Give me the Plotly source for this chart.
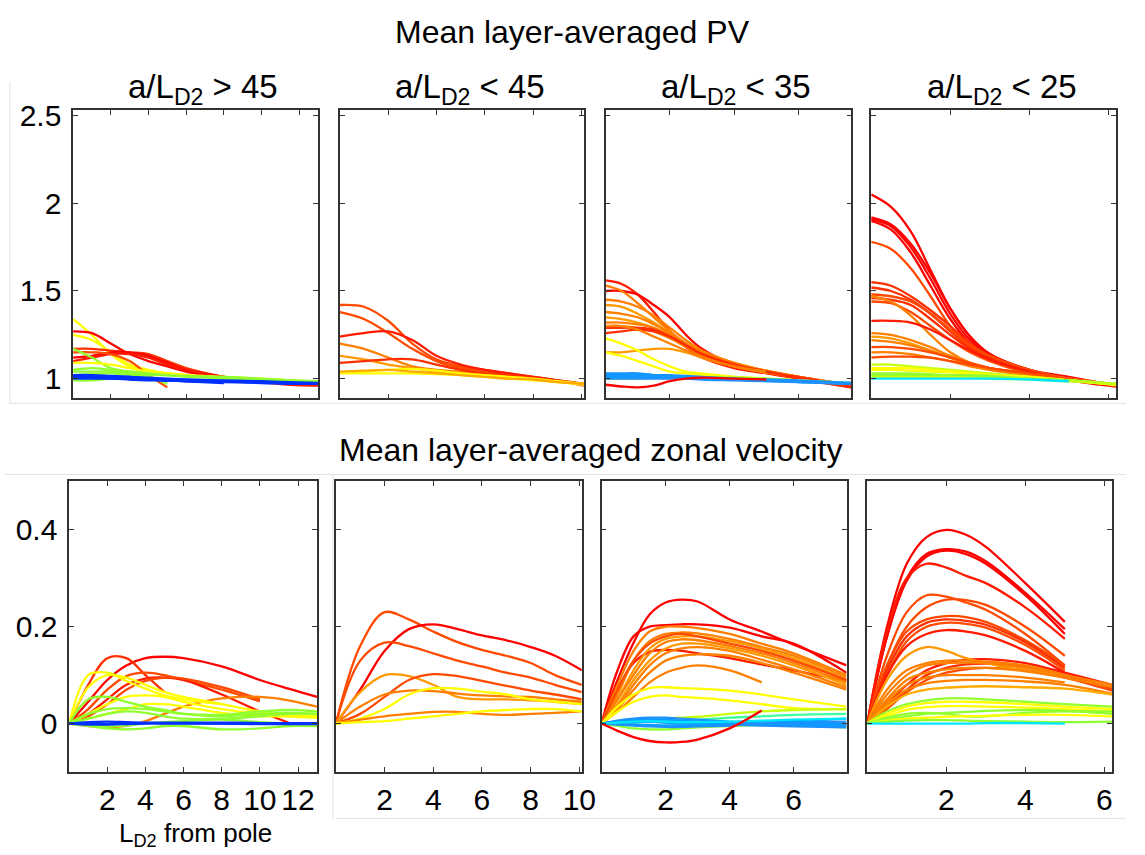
import plotly.graph_objects as go

# ---------------- colours (jet-like) ----------------
R = '#ff0000'; R1 = '#ff1a00'; R2 = '#ff3000'; OR = '#ff4a00'; O = '#ff8000'
O2 = '#ff9900'; OL = '#ffaa00'; Y = '#ffff00'; YG = '#c8ff10'; G = '#90ff30'
GC = '#40ffa0'; C = '#00e5ff'; LB = '#1e90ff'; LB2 = '#0a9cff'; B = '#0030ff'

# ---------------- panel 1 (a/L_D2 > 45) ----------------
pv1_x = [0, 1, 2, 3, 4, 5, 6, 8, 10, 11.5, 13]
pv1_y = [
    [1.34, 1.25, 1.14, 1.07, 1.04, 1.03, 1.02, 1.0, 0.99, 0.98, 0.975],
    [1.27, 1.26, 1.2, 1.14, 1.1, 1.07, 1.04, 1.0],
    [1.25, 1.22, 1.15, 1.08, 1.05, 1.03, 1.02, 1.0, 0.99, 0.98, 0.975],
    [1.17, 1.17, 1.16, 1.15, 1.14, 1.1, 1.06, 1.01, 0.98, 0.97, 0.965],
    [1.12, 1.13, 1.15, 1.15, 1.13, 1.09, 1.05, 1.01, 0.985, 0.97, 0.965],
    [1.1, 1.12, 1.14, 1.14, 1.12, 1.08, 1.05, 1.01, 0.98, 0.965, 0.96],
    [1.15, 1.15, 1.14, 1.1, 1.02, 0.95],
    [1.17, 1.12, 1.06, 1.04, 1.03, 1.02, 1.015, 1.0, 0.99, 0.985, 0.98],
    [1.09, 1.09, 1.08, 1.06, 1.04, 1.03, 1.02, 1.01, 1.0, 0.99, 0.98],
    [1.05, 1.06, 1.05, 1.04, 1.03, 1.02, 1.015, 1.01, 1.0, 0.99, 0.985],
    [1.04, 1.04, 1.04, 1.03, 1.02, 1.02, 1.01, 1.005, 0.995, 0.99, 0.985],
    [0.99, 0.99, 1.0, 1.0, 0.995, 0.99, 0.99, 0.985],
    [1.02, 1.025, 1.03, 1.02, 1.01, 0.97],
    [1.015, 1.015, 1.01, 1.01, 1.005, 1.0, 0.995, 0.99, 0.985, 0.98, 0.975],
    [1.02, 1.02, 1.015, 1.01, 1.0, 0.985],
    [1.01, 1.01, 1.005, 1.0, 0.995, 0.99, 0.985, 0.975],
    [1.005, 1.005, 1.0, 1.0, 0.995, 0.99, 0.99, 0.985, 0.978],
    [1.0, 1.0, 1.0, 0.995, 0.99, 0.99, 0.985, 0.98, 0.975, 0.97, 0.97],
]
pv1_c = [Y, R, Y, R2, R, R1, OR, G, Y, G, G, G, G, B, B, B, B, B]

u1_x = [0, 1, 2, 3, 4, 5, 6, 8, 10, 11.5, 13]
u1_y = [
    [0, 0.045, 0.09, 0.12, 0.135, 0.138, 0.135, 0.118, 0.09, 0.072, 0.055],
    [0, 0.08, 0.135, 0.135, 0.1, 0.065],
    [0, 0.03, 0.07, 0.098, 0.105, 0.1, 0.09, 0.07, 0.046],
    [0, 0.02, 0.05, 0.08, 0.093, 0.095, 0.09, 0.06, 0.025, 0.002],
    [0, 0.015, 0.04, 0.07, 0.088, 0.095, 0.093, 0.075, 0.05],
    [0, -0.005, -0.008, -0.005, 0.005, 0.02, 0.035, 0.052, 0.055, 0.048, 0.035],
    [0, 0.1, 0.105, 0.088, 0.072, 0.058, 0.05, 0.04],
    [0, 0.075, 0.1, 0.095, 0.08, 0.065, 0.055, 0.04, 0.025, 0.018, 0.015],
    [0, 0.02, 0.04, 0.055, 0.058, 0.055, 0.045, 0.03, 0.02, 0.015, 0.012],
    [0, 0.01, 0.02, 0.03, 0.04, 0.04, 0.035, 0.022, 0.015, 0.015, 0.015],
    [0, 0.05, 0.055, 0.045, 0.035, 0.028, 0.02, 0.015, 0.02, 0.022, 0.02],
    [0, 0.02, 0.03, 0.032, 0.03, 0.025, 0.02, 0.018, 0.025, 0.028, 0.025],
    [0, 0.01, 0.02, 0.025, 0.022, 0.015, 0.01, 0.01, 0.015, 0.02, 0.02],
    [0, -0.005, -0.01, -0.012, -0.01, -0.005, -0.005, -0.012, -0.01, -0.005, -0.005],
    [0, -0.003, -0.005, -0.004, 0.0, 0.003, 0.005, 0.008, 0.003, 0.0, 0.0],
    [0, 0.003, 0.004, 0.003, 0.002, 0.002, 0.002, 0.002, 0.001, 0.001, 0.001],
    [0, 0.0, -0.001, 0.0, 0.001, 0.0, 0.0, 0.0, 0.0, 0.0, 0.0],
    [0, -0.002, -0.002, -0.001, 0, 0.001, 0.001, 0.0, -0.001, -0.001, -0.001],
]
u1_c = [R, R2, OR, R1, OR, O, Y, Y, Y, Y, G, G, G, G, G, B, B, B]

# ---------------- panel 2 (a/L_D2 < 45) ----------------
pv2_x = [0, 1, 2, 3, 4, 5, 6, 7, 8, 9, 10.1]
pv2_y = [
    [1.42, 1.41, 1.33, 1.2, 1.11, 1.07, 1.05, 1.03, 1.01, 0.99, 0.97],
    [1.38, 1.34, 1.26, 1.17, 1.1, 1.06, 1.04, 1.02, 1.0, 0.985, 0.965],
    [1.24, 1.26, 1.27, 1.22, 1.13, 1.08, 1.05, 1.03, 1.01, 0.99, 0.96],
    [1.2, 1.17, 1.12, 1.07, 1.05, 1.04, 1.03, 1.01, 1.0, 0.985, 0.97],
    [1.13, 1.11, 1.08, 1.06, 1.04, 1.03, 1.02, 1.01, 1.0, 0.985, 0.97],
    [1.09, 1.1, 1.11, 1.11, 1.08, 1.05, 1.03, 1.02, 1.0, 0.99, 0.97],
    [1.035, 1.04, 1.05, 1.055, 1.045, 1.03, 1.02, 1.01, 1.0, 0.985, 0.97],
    [1.03, 1.03, 1.03, 1.03, 1.025, 1.02, 1.01, 1.0, 0.99, 0.98, 0.965],
    [1.04, 1.045, 1.05, 1.04, 1.03, 1.02, 1.01, 1.0, 0.995, 0.98, 0.97],
]
pv2_c = [OR, OR, R1, O, O2, R2, Y, Y, OL]

u2_x = [0, 1, 2, 3, 4, 5, 6, 7, 8, 9, 10.1]
u2_y = [
    [0, 0.16, 0.23, 0.215, 0.19, 0.168, 0.152, 0.14, 0.125, 0.1, 0.08],
    [0, 0.07, 0.15, 0.195, 0.205, 0.195, 0.182, 0.172, 0.158, 0.14, 0.11],
    [0, 0.13, 0.167, 0.16, 0.145, 0.13, 0.118, 0.105, 0.095, 0.08, 0.065],
    [0, 0.065, 0.1, 0.098, 0.08, 0.055, 0.05, 0.05, 0.048, 0.045, 0.04],
    [0, 0.02, 0.055, 0.09, 0.102, 0.098, 0.088, 0.078, 0.068, 0.06, 0.05],
    [0, 0.035, 0.06, 0.068, 0.067, 0.062, 0.058, 0.056, 0.055, 0.05, 0.045],
    [0, 0.01, 0.03, 0.06, 0.073, 0.072, 0.066, 0.06, 0.05, 0.045, 0.04],
    [0, 0.008, 0.015, 0.02, 0.024, 0.024, 0.02, 0.018, 0.02, 0.022, 0.025],
    [0, 0.003, 0.005, 0.01, 0.015, 0.02, 0.025, 0.028, 0.03, 0.03, 0.025],
]
u2_c = [OR, R, OR, O2, OR, O, Y, O, Y]

# ---------------- panel 3 (a/L_D2 < 35) ----------------
pv3_x = [0, 0.5, 1, 1.5, 2, 2.5, 3, 4, 5, 6, 7.65]
pv3_y = [
    [1.56, 1.54, 1.48, 1.38, 1.27, 1.18, 1.12, 1.06, 1.03, 1.0, 0.95],
    [1.5, 1.5, 1.48, 1.42, 1.35, 1.25, 1.17, 1.08, 1.04, 1.01, 0.955],
    [1.53, 1.5, 1.43, 1.35, 1.27, 1.2, 1.15, 1.08, 1.04, 1.01, 0.96],
    [1.45, 1.44, 1.41, 1.36, 1.29, 1.22, 1.16, 1.09, 1.045, 1.01, 0.965],
    [1.42, 1.41, 1.37, 1.32, 1.26, 1.2, 1.15, 1.08, 1.04, 1.01, 0.96],
    [1.38, 1.37, 1.35, 1.31, 1.26, 1.2, 1.15, 1.09, 1.045, 1.01, 0.965],
    [1.35, 1.34, 1.32, 1.29, 1.24, 1.19, 1.14, 1.08, 1.04, 1.01, 0.96],
    [1.32, 1.32, 1.31, 1.29, 1.25, 1.2, 1.15, 1.08, 1.04, 1.005, 0.96],
    [1.3, 1.3, 1.29, 1.27, 1.23, 1.18, 1.13, 1.07, 1.035, 1.005, 0.965],
    [1.15, 1.15, 1.16, 1.17, 1.17, 1.15, 1.12, 1.07, 1.035, 1.005, 0.965],
    [1.29, 1.29, 1.29, 1.28, 1.24, 1.19, 1.14, 1.08, 1.04, 1.01, 0.955],
    [1.26, 1.27, 1.28, 1.27, 1.24, 1.19, 1.14, 1.08, 1.04, 1.0, 0.95],
    [1.3, 1.3, 1.28, 1.24, 1.2, 1.16, 1.12, 1.07, 1.04],
    [1.23, 1.2, 1.16, 1.11, 1.07, 1.04, 1.03, 1.01, 1.0, 0.99, 0.97],
    [1.15, 1.13, 1.1, 1.07, 1.04, 1.03, 1.02, 1.01, 1.0, 0.99, 0.97],
    [1.0, 1.0, 1.0, 1.005, 1.01, 1.01, 1.01, 1.005, 1.0, 0.99, 0.975],
    [1.03, 1.03, 1.03, 1.02, 1.02, 1.015, 1.01, 1.0, 0.995, 0.99, 0.975],
    [1.02, 1.025, 1.025, 1.02, 1.015, 1.01, 1.005, 1.0, 0.99, 0.985, 0.975],
    [1.015, 1.015, 1.015, 1.015, 1.01, 1.005, 1.0, 0.995, 0.99, 0.985, 0.97],
    [1.01, 1.01, 1.005, 1.005, 1.005, 1.0, 1.0, 0.995, 0.99, 0.98, 0.97],
    [1.0, 1.0, 1.0, 1.0, 1.0, 1.0, 0.995, 0.99, 0.985, 0.98, 0.97],
    [0.965, 0.955, 0.95, 0.96, 0.985, 1.0, 1.005, 1.0, 0.995],
]
pv3_c = [R1, R, O, O, O2, O, O2, O, O, O2, R2, R2, O, Y, Y, G, LB, LB2, LB, LB2, LB, R]

u3_x = [0, 0.5, 1, 1.5, 2, 2.5, 3, 4, 5, 6, 7.65]
u3_y = [
    [0, 0.09, 0.167, 0.225, 0.25, 0.256, 0.252, 0.215, 0.19, 0.163, 0.12],
    [0, 0.11, 0.18, 0.2, 0.203, 0.205, 0.205, 0.198, 0.18, 0.165, 0.105],
    [0, 0.07, 0.125, 0.148, 0.152, 0.15, 0.145, 0.135, 0.122, 0.11, 0.088],
    [0, 0.08, 0.15, 0.19, 0.2, 0.2, 0.197, 0.185, 0.165, 0.145, 0.1],
    [0, 0.06, 0.13, 0.17, 0.185, 0.188, 0.186, 0.175, 0.158, 0.14, 0.095],
    [0, 0.05, 0.11, 0.155, 0.175, 0.18, 0.18, 0.17, 0.155, 0.135, 0.09],
    [0, 0.05, 0.1, 0.145, 0.168, 0.174, 0.172, 0.16, 0.145, 0.125, 0.085],
    [0, 0.04, 0.09, 0.13, 0.155, 0.165, 0.165, 0.155, 0.14, 0.12, 0.08],
    [0, 0.035, 0.08, 0.12, 0.145, 0.155, 0.158, 0.15, 0.132, 0.112, 0.075],
    [0, 0.03, 0.07, 0.105, 0.13, 0.14, 0.143, 0.14, 0.125, 0.105, 0.07],
    [0, 0.025, 0.055, 0.085, 0.105, 0.115, 0.12, 0.11, 0.085],
    [0, 0.07, 0.13, 0.165, 0.18, 0.185, 0.18, 0.165, 0.15, 0.13, 0.09],
    [0, 0.035, 0.06, 0.073, 0.075, 0.073, 0.072, 0.068, 0.06, 0.05, 0.035],
    [0, 0.025, 0.045, 0.055, 0.058, 0.055, 0.053, 0.048, 0.04, 0.032, 0.03],
    [0, 0.002, 0.005, 0.008, 0.01, 0.012, 0.014, 0.02, 0.025, 0.028, 0.03],
    [0, 0.0, 0.002, 0.004, 0.005, 0.006, 0.008, 0.012, 0.015, 0.018, 0.02],
    [0, -0.005, -0.01, -0.012, -0.012, -0.01, -0.008, -0.005, -0.003, -0.003, -0.008],
    [0, 0.006, 0.01, 0.012, 0.012, 0.01, 0.008, 0.004, 0.0, -0.002, -0.005],
    [0, 0.004, 0.007, 0.008, 0.008, 0.006, 0.004, 0.002, 0.0, -0.002, -0.004],
    [0, 0.002, 0.003, 0.004, 0.003, 0.002, 0.0, -0.002, -0.004, -0.006, -0.008],
    [0, 0.0, -0.002, -0.003, -0.004, -0.004, -0.004, -0.003, -0.001, 0.0, 0.0],
    [0, -0.002, -0.004, -0.006, -0.007, -0.007, -0.006, -0.004, 0.0, 0.002, 0.004],
    [0, 0.003, 0.005, 0.004, 0.002, 0.0, 0.0, 0.002, 0.005, 0.005, 0.01],
    [0, 0.002, 0.004, 0.005, 0.004, 0.003, 0.003, 0.004, 0.006, 0.008, 0.01],
    [0, -0.015, -0.028, -0.036, -0.039, -0.038, -0.033, -0.01, 0.027],
]
u3_c = [R, R, R1, O, O, O2, O, O2, O, O, O, OR, Y, Y, YG, GC, G,
        LB, LB2, LB, LB2, LB, LB2, C, R]

# ---------------- panel 4 (a/L_D2 < 25) ----------------
pv4_x = [0, 0.5, 1, 1.5, 2, 2.5, 3, 4, 5, 6.2]
pv4_y = [
    [2.05, 1.98, 1.84, 1.62, 1.4, 1.24, 1.14, 1.05, 1.01, 0.96],
    [1.92, 1.88, 1.77, 1.6, 1.4, 1.24, 1.14, 1.05, 1.0, 0.96],
    [1.91, 1.87, 1.75, 1.57, 1.37, 1.22, 1.13, 1.05, 1.0, 0.96],
    [1.9, 1.85, 1.72, 1.53, 1.34, 1.2, 1.12, 1.04, 0.99],
    [1.78, 1.74, 1.63, 1.47, 1.3, 1.18, 1.11, 1.04, 1.0, 0.96],
    [1.55, 1.53, 1.47, 1.39, 1.3, 1.2, 1.13, 1.05, 1.0, 0.96],
    [1.52, 1.5, 1.45, 1.37, 1.27, 1.18, 1.12, 1.04, 0.99],
    [1.48, 1.47, 1.44, 1.37, 1.28, 1.19, 1.13, 1.05, 1.0, 0.96],
    [1.46, 1.45, 1.42, 1.34, 1.25, 1.17, 1.11, 1.04, 0.99],
    [1.44, 1.43, 1.38, 1.3, 1.22, 1.15, 1.1, 1.03, 0.99],
    [1.47, 1.44, 1.36, 1.25, 1.15, 1.09, 1.06, 1.03, 1.0, 0.965],
    [1.33, 1.33, 1.32, 1.28, 1.22, 1.16, 1.11, 1.04, 0.99, 0.955],
    [1.26, 1.25, 1.22, 1.18, 1.13, 1.09, 1.06, 1.02, 1.0, 0.965],
    [1.24, 1.23, 1.2, 1.16, 1.12, 1.08, 1.05, 1.02, 0.995],
    [1.22, 1.21, 1.19, 1.16, 1.12, 1.08, 1.06, 1.02, 0.99],
    [1.18, 1.18, 1.17, 1.15, 1.12, 1.09, 1.06, 1.03, 0.995, 0.96],
    [1.15, 1.15, 1.14, 1.12, 1.1, 1.07, 1.05, 1.02, 0.99],
    [1.12, 1.125, 1.125, 1.12, 1.1, 1.08, 1.06, 1.03, 1.0, 0.96],
    [1.08, 1.08, 1.07, 1.06, 1.05, 1.04, 1.03, 1.01, 0.99, 0.965],
    [1.06, 1.06, 1.06, 1.05, 1.04, 1.03, 1.02, 1.01, 0.99, 0.965],
    [1.05, 1.05, 1.045, 1.04, 1.035, 1.03, 1.02, 1.0, 0.99, 0.965],
    [1.03, 1.03, 1.03, 1.025, 1.02, 1.02, 1.015, 1.0, 0.99, 0.97],
    [1.02, 1.02, 1.02, 1.02, 1.015, 1.01, 1.01, 1.0, 0.99, 0.97],
    [1.01, 1.01, 1.01, 1.01, 1.01, 1.005, 1.0, 0.995, 0.985, 0.97],
    [1.0, 1.0, 1.0, 1.0, 1.0, 1.0, 1.0, 0.995, 0.985],
]
pv4_c = [R, R, R, R, OR, R2, R2, OR, R2, OR, O, R1, O, O2, O, OR, O, OR,
         YG, Y, Y, G, G, YG, C]

u4_x = [0, 0.5, 1, 1.5, 2, 2.5, 3, 4, 5, 6.2]
u4_y = [
    [0, 0.2, 0.33, 0.385, 0.4, 0.39, 0.365, 0.29, 0.21],
    [0, 0.18, 0.3, 0.35, 0.36, 0.355, 0.335, 0.27, 0.195],
    [0, 0.18, 0.295, 0.345, 0.357, 0.35, 0.33, 0.265, 0.185],
    [0, 0.19, 0.3, 0.33, 0.322, 0.305, 0.29, 0.24, 0.175],
    [0, 0.14, 0.23, 0.265, 0.262, 0.25, 0.235, 0.185, 0.12],
    [0, 0.12, 0.2, 0.24, 0.256, 0.255, 0.245, 0.2, 0.14],
    [0, 0.12, 0.19, 0.215, 0.222, 0.22, 0.21, 0.172, 0.12],
    [0, 0.11, 0.18, 0.208, 0.215, 0.212, 0.204, 0.168, 0.115],
    [0, 0.1, 0.17, 0.2, 0.208, 0.206, 0.198, 0.162, 0.11],
    [0, 0.1, 0.16, 0.185, 0.193, 0.19, 0.182, 0.15, 0.105],
    [0, 0.04, 0.08, 0.11, 0.125, 0.132, 0.133, 0.125, 0.105, 0.08],
    [0, 0.035, 0.07, 0.1, 0.115, 0.122, 0.124, 0.118, 0.1, 0.072],
    [0, 0.03, 0.065, 0.09, 0.105, 0.112, 0.115, 0.11, 0.095, 0.068],
    [0, 0.09, 0.14, 0.158, 0.15, 0.135, 0.125, 0.11, 0.1],
    [0, 0.07, 0.11, 0.125, 0.13, 0.13, 0.128, 0.12, 0.1],
    [0, 0.06, 0.1, 0.12, 0.125, 0.126, 0.125, 0.115, 0.1, 0.08],
    [0, 0.05, 0.09, 0.105, 0.112, 0.115, 0.115, 0.108, 0.095, 0.075],
    [0, 0.045, 0.08, 0.095, 0.1, 0.1, 0.1, 0.095, 0.085],
    [0, 0.04, 0.07, 0.083, 0.088, 0.09, 0.09, 0.087, 0.08, 0.062],
    [0, 0.035, 0.06, 0.07, 0.074, 0.076, 0.077, 0.075, 0.072, 0.06],
    [0, 0.025, 0.04, 0.048, 0.052, 0.052, 0.05, 0.045, 0.04, 0.035],
    [0, 0.02, 0.035, 0.042, 0.045, 0.045, 0.044, 0.04, 0.035, 0.03],
    [0, 0.015, 0.028, 0.034, 0.036, 0.036, 0.035, 0.033, 0.03, 0.025],
    [0, 0.012, 0.02, 0.022, 0.02, 0.015, 0.015, 0.022, 0.025, 0.025],
    [0, 0.008, 0.015, 0.02, 0.022, 0.024, 0.026, 0.028, 0.026, 0.02],
    [0, 0.006, 0.01, 0.012, 0.014, 0.015, 0.016, 0.018, 0.018, 0.015],
    [0, 0.004, 0.006, 0.007, 0.007, 0.006, 0.005, 0.004, 0.003, 0.004],
    [0, 0.0, 0.0, 0.0, 0.0, 0.0, 0.001, 0.001, 0.0],
]
u4_c = [R, R, R, R1, OR, OR, OR, R2, OR, R1, R1, R2, OR, O2, O, O, O, O, O, OL,
        G, Y, Y, G, G, Y, G, C]

# ---------------- axes / text ----------------
x_ranges = [[0, 13], [0, 10.1], [0, 7.65], [0, 6.2]]
x_ticks = [[2, 4, 6, 8, 10, 12], [2, 4, 6, 8, 10], [2, 4, 6], [2, 4, 6]]
pv_range = [0.887, 2.534]
pv_ticks = [1, 1.5, 2, 2.5]
u_range = [-0.1, 0.5]
u_ticks = [0, 0.2, 0.4]
col_titles = ['a/L<sub>D2</sub> > 45', 'a/L<sub>D2</sub> < 45',
              'a/L<sub>D2</sub> < 35', 'a/L<sub>D2</sub> < 25']
title_top = 'Mean layer-averaged PV'
title_bot = 'Mean layer-averaged zonal velocity'
xlabel = 'L<sub>D2</sub> from pole'

W, H = 1145, 855
FONT = 'Liberation Sans, Arial, Helvetica, sans-serif'

top_px = [(74, 322), (344, 591), (613, 862), (882, 1130)]
bot_px = [(70, 321), (340, 589), (609, 857), (878, 1126)]
top_py = (101, 393)
bot_py = (477, 771)

fig = go.Figure()

pv_sets = [(pv1_x, pv1_y, pv1_c), (pv2_x, pv2_y, pv2_c), (pv3_x, pv3_y, pv3_c), (pv4_x, pv4_y, pv4_c)]
u_sets = [(u1_x, u1_y, u1_c), (u2_x, u2_y, u2_c), (u3_x, u3_y, u3_c), (u4_x, u4_y, u4_c)]

def add_set(xs, ys, cs, axn):
    for yv, col in zip(ys, cs):
        fig.add_trace(go.Scatter(
            x=xs[:len(yv)], y=yv, mode='lines',
            line=dict(color=col, width=2.3, shape='spline', smoothing=1.0),
            xaxis='x' + ('' if axn == 1 else str(axn)),
            yaxis='y' + ('' if axn == 1 else str(axn)),
            hoverinfo='skip', showlegend=False))

for i in range(4):
    add_set(*pv_sets[i], i + 1)
    add_set(*u_sets[i], i + 5)

axis_common = dict(showline=True, linecolor='#333333', linewidth=1.5, mirror='allticks',
                   ticks='inside', ticklen=5, tickwidth=1, tickcolor='#333333',
                   showgrid=False, zeroline=False, fixedrange=True,
                   tickfont=dict(family=FONT, size=30, color='black'))

layout = dict(width=W, height=H, margin=dict(l=0, r=0, t=0, b=0),
              paper_bgcolor='white', plot_bgcolor='white', showlegend=False)

for i in range(4):
    for row in range(2):
        n = i + 1 + 4 * row
        xk = 'xaxis' + ('' if n == 1 else str(n))
        yk = 'yaxis' + ('' if n == 1 else str(n))
        px = top_px[i] if row == 0 else bot_px[i]
        py = top_py if row == 0 else bot_py
        xd = dict(axis_common)
        xd.update(domain=[px[0] / W, px[1] / W], range=x_ranges[i],
                  tickvals=x_ticks[i], showticklabels=(row == 1),
                  anchor='y' + ('' if n == 1 else str(n)), ticklabelstandoff=0)
        yd = dict(axis_common)
        yd.update(domain=[1 - py[1] / H, 1 - py[0] / H],
                  range=pv_range if row == 0 else u_range,
                  tickvals=pv_ticks if row == 0 else u_ticks,
                  showticklabels=(i == 0),
                  anchor='x' + ('' if n == 1 else str(n)), ticklabelstandoff=4)
        layout[xk] = xd
        layout[yk] = yd

ann = []
ann.append(dict(text=title_top, x=580 / W, y=1 - 22 / H, xref='paper', yref='paper',
                showarrow=False, font=dict(family=FONT, size=32, color='black'),
                xanchor='center', yanchor='middle'))
ann.append(dict(text=title_bot, x=598 / W, y=1 - 445 / H, xref='paper', yref='paper',
                showarrow=False, font=dict(family=FONT, size=32, color='black'),
                xanchor='center', yanchor='middle'))
for i in range(4):
    cx = (top_px[i][0] + top_px[i][1]) / 2 + 8
    ann.append(dict(text=col_titles[i], x=cx / W, y=1 - 80 / H, xref='paper', yref='paper',
                    showarrow=False, font=dict(family=FONT, size=33, color='black'),
                    xanchor='center', yanchor='middle'))
ann.append(dict(text=xlabel, x=198 / W, y=1 - 834 / H, xref='paper', yref='paper',
                showarrow=False, font=dict(family=FONT, size=26, color='black'),
                xanchor='center', yanchor='middle'))
layout['annotations'] = ann

# faint frame lines of the composite figure
shapes = []
def hline(y, x0, x1):
    shapes.append(dict(type='line', xref='paper', yref='paper', x0=x0 / W, x1=x1 / W,
                       y0=1 - y / H, y1=1 - y / H, line=dict(color='#e2e2e2', width=1), layer='below'))
def vline(x, y0, y1):
    shapes.append(dict(type='line', xref='paper', yref='paper', x0=x / W, x1=x / W,
                       y0=1 - y0 / H, y1=1 - y1 / H, line=dict(color='#e2e2e2', width=1), layer='below'))
hline(398, 10, 1140)
hline(470, 5, 1140)
hline(818, 340, 1140)
vline(10, 73, 398)
vline(337, 470, 818)
layout['shapes'] = shapes

fig.update_layout(**layout)
fig.write_html('out.html')
